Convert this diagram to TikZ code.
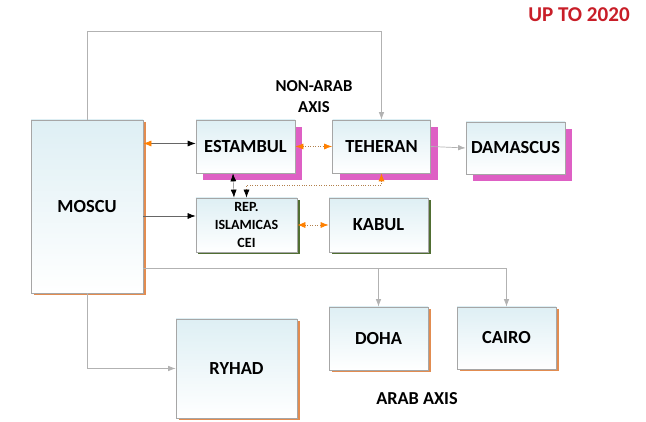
\documentclass[tikz,border=0pt]{standalone}
\usepackage{fontspec}
\setsansfont{Carlito}
\usetikzlibrary{shadows,arrows.meta}

\definecolor{pinkshadow}{RGB}{222,96,196}
\definecolor{orangeshadow}{RGB}{226,140,80}
\definecolor{greenshadow}{RGB}{80,110,50}
\definecolor{axisred}{RGB}{200,30,40}
\definecolor{boxtop}{RGB}{222,239,244}

\begin{document}
\begin{tikzpicture}[
    font=\sffamily\bfseries,
    box/.style={draw=gray!70,top color=boxtop,bottom color=white,
      align=center,inner sep=1pt,font=\sffamily\bfseries\fontsize{10.5}{12}\selectfont},
    pinkbox/.style={box,drop shadow={shadow xshift=1.4mm,shadow yshift=-1.4mm,
      fill=pinkshadow,opacity=1}},
    orangebox/.style={box,drop shadow={shadow xshift=0.5mm,shadow yshift=-0.5mm,
      fill=orangeshadow,opacity=1}},
    greenbox/.style={box,drop shadow={shadow xshift=0.5mm,shadow yshift=-0.5mm,
      fill=greenshadow,opacity=1}},
    link/.style={draw=gray!60,-{Latex[length=1.5mm,width=1.1mm]}},
    tieline/.style={draw=gray!60!orange,densely dotted,
      {Latex[length=1.6mm,width=1.2mm,color=orange]}-{Latex[length=1.6mm,width=1.2mm,color=orange]}},
  ]
  \useasboundingbox (0,0) rectangle (12.92,8.44);

  % nodes
  \node[orangebox,minimum width=2.24cm,minimum height=3.46cm] (moscu) at (1.74,4.31) {MOSCU};
  \node[pinkbox,minimum width=1.98cm,minimum height=1.06cm] (estambul) at (4.91,5.51) {ESTAMBUL};
  \node[pinkbox,minimum width=1.96cm,minimum height=1.06cm] (teheran) at (7.63,5.51) {TEHERAN};
  \node[pinkbox,minimum width=1.98cm,minimum height=1.04cm] (damascus) at (10.31,5.48) {DAMASCUS};
  \node[greenbox,minimum width=2.02cm,minimum height=1.08cm,
    font=\sffamily\bfseries\fontsize{8}{10}\selectfont] (rep) at (4.93,3.94) {REP.\\ISLAMICAS\\CEI};
  \node[greenbox,minimum width=1.98cm,minimum height=1.08cm] (kabul) at (7.57,3.94) {KABUL};
  \node[orangebox,minimum width=2.42cm,minimum height=1.98cm] (ryhad) at (4.73,1.07) {RYHAD};
  \node[orangebox,minimum width=1.98cm,minimum height=1.26cm] (doha) at (7.57,1.67) {DOHA};
  \node[orangebox,minimum width=1.98cm,minimum height=1.24cm] (cairo) at (10.13,1.68) {CAIRO};

  % labels
  \node[text=axisred,font=\sffamily\bfseries\fontsize{12}{14}\selectfont] (upto) at (11.58,8.15) {UP TO 2020};
  \node[align=center,font=\sffamily\bfseries\fontsize{9.5}{12}\selectfont] (nonarab) at (6.28,6.51) {NON-ARAB\\AXIS};
  \node[font=\sffamily\bfseries\fontsize{10.4}{12}\selectfont] (arab) at (8.34,0.46) {ARAB AXIS};

  % connectors
  \draw[link] (moscu.north) -- ++(0,1.76) -| (teheran.north);
  \coordinate (estin) at ([yshift=0.06cm]estambul.west);
  \draw[draw=gray!80!black,{Latex[length=1.6mm,width=1.2mm,color=orange]}-{Latex[length=1.6mm,width=1.2mm,color=black]}]
    (moscu.east |- estin) -- (estin);
  \draw[tieline] (estambul.east) -- (teheran.west);
  \draw[link] (teheran.east) -- (damascus.west);
  \coordinate (repin) at ([yshift=0.18cm]rep.west);
  \draw[draw=gray!80!black,-{Latex[length=1.6mm,width=1.2mm,color=black]}]
    (moscu.east |- repin) -- (repin);
  \draw[tieline] (rep.east) -- (kabul.west);
  \draw[draw=gray!70,{Latex[length=1.6mm,width=1.2mm,color=black]}-{Latex[length=1.6mm,width=1.2mm,color=black]}]
    ([xshift=-2.5mm]estambul.south) -- ([xshift=-2.5mm]rep.north);
  \draw[draw=gray!60!orange,densely dotted,
    {Latex[length=1.6mm,width=1.2mm,color=orange]}-{Latex[length=1.6mm,width=1.2mm,color=black]}]
    (teheran.south) -- ++(0,-0.24) -| (rep.north);
  \coordinate (split) at (moscu.east |- 0,3.08);
  \draw[link] (split) -| (doha.north);
  \draw[link] (split) -| (cairo.north);
  \draw[link] (moscu.south) |- (ryhad.west);
\end{tikzpicture}
\end{document}
